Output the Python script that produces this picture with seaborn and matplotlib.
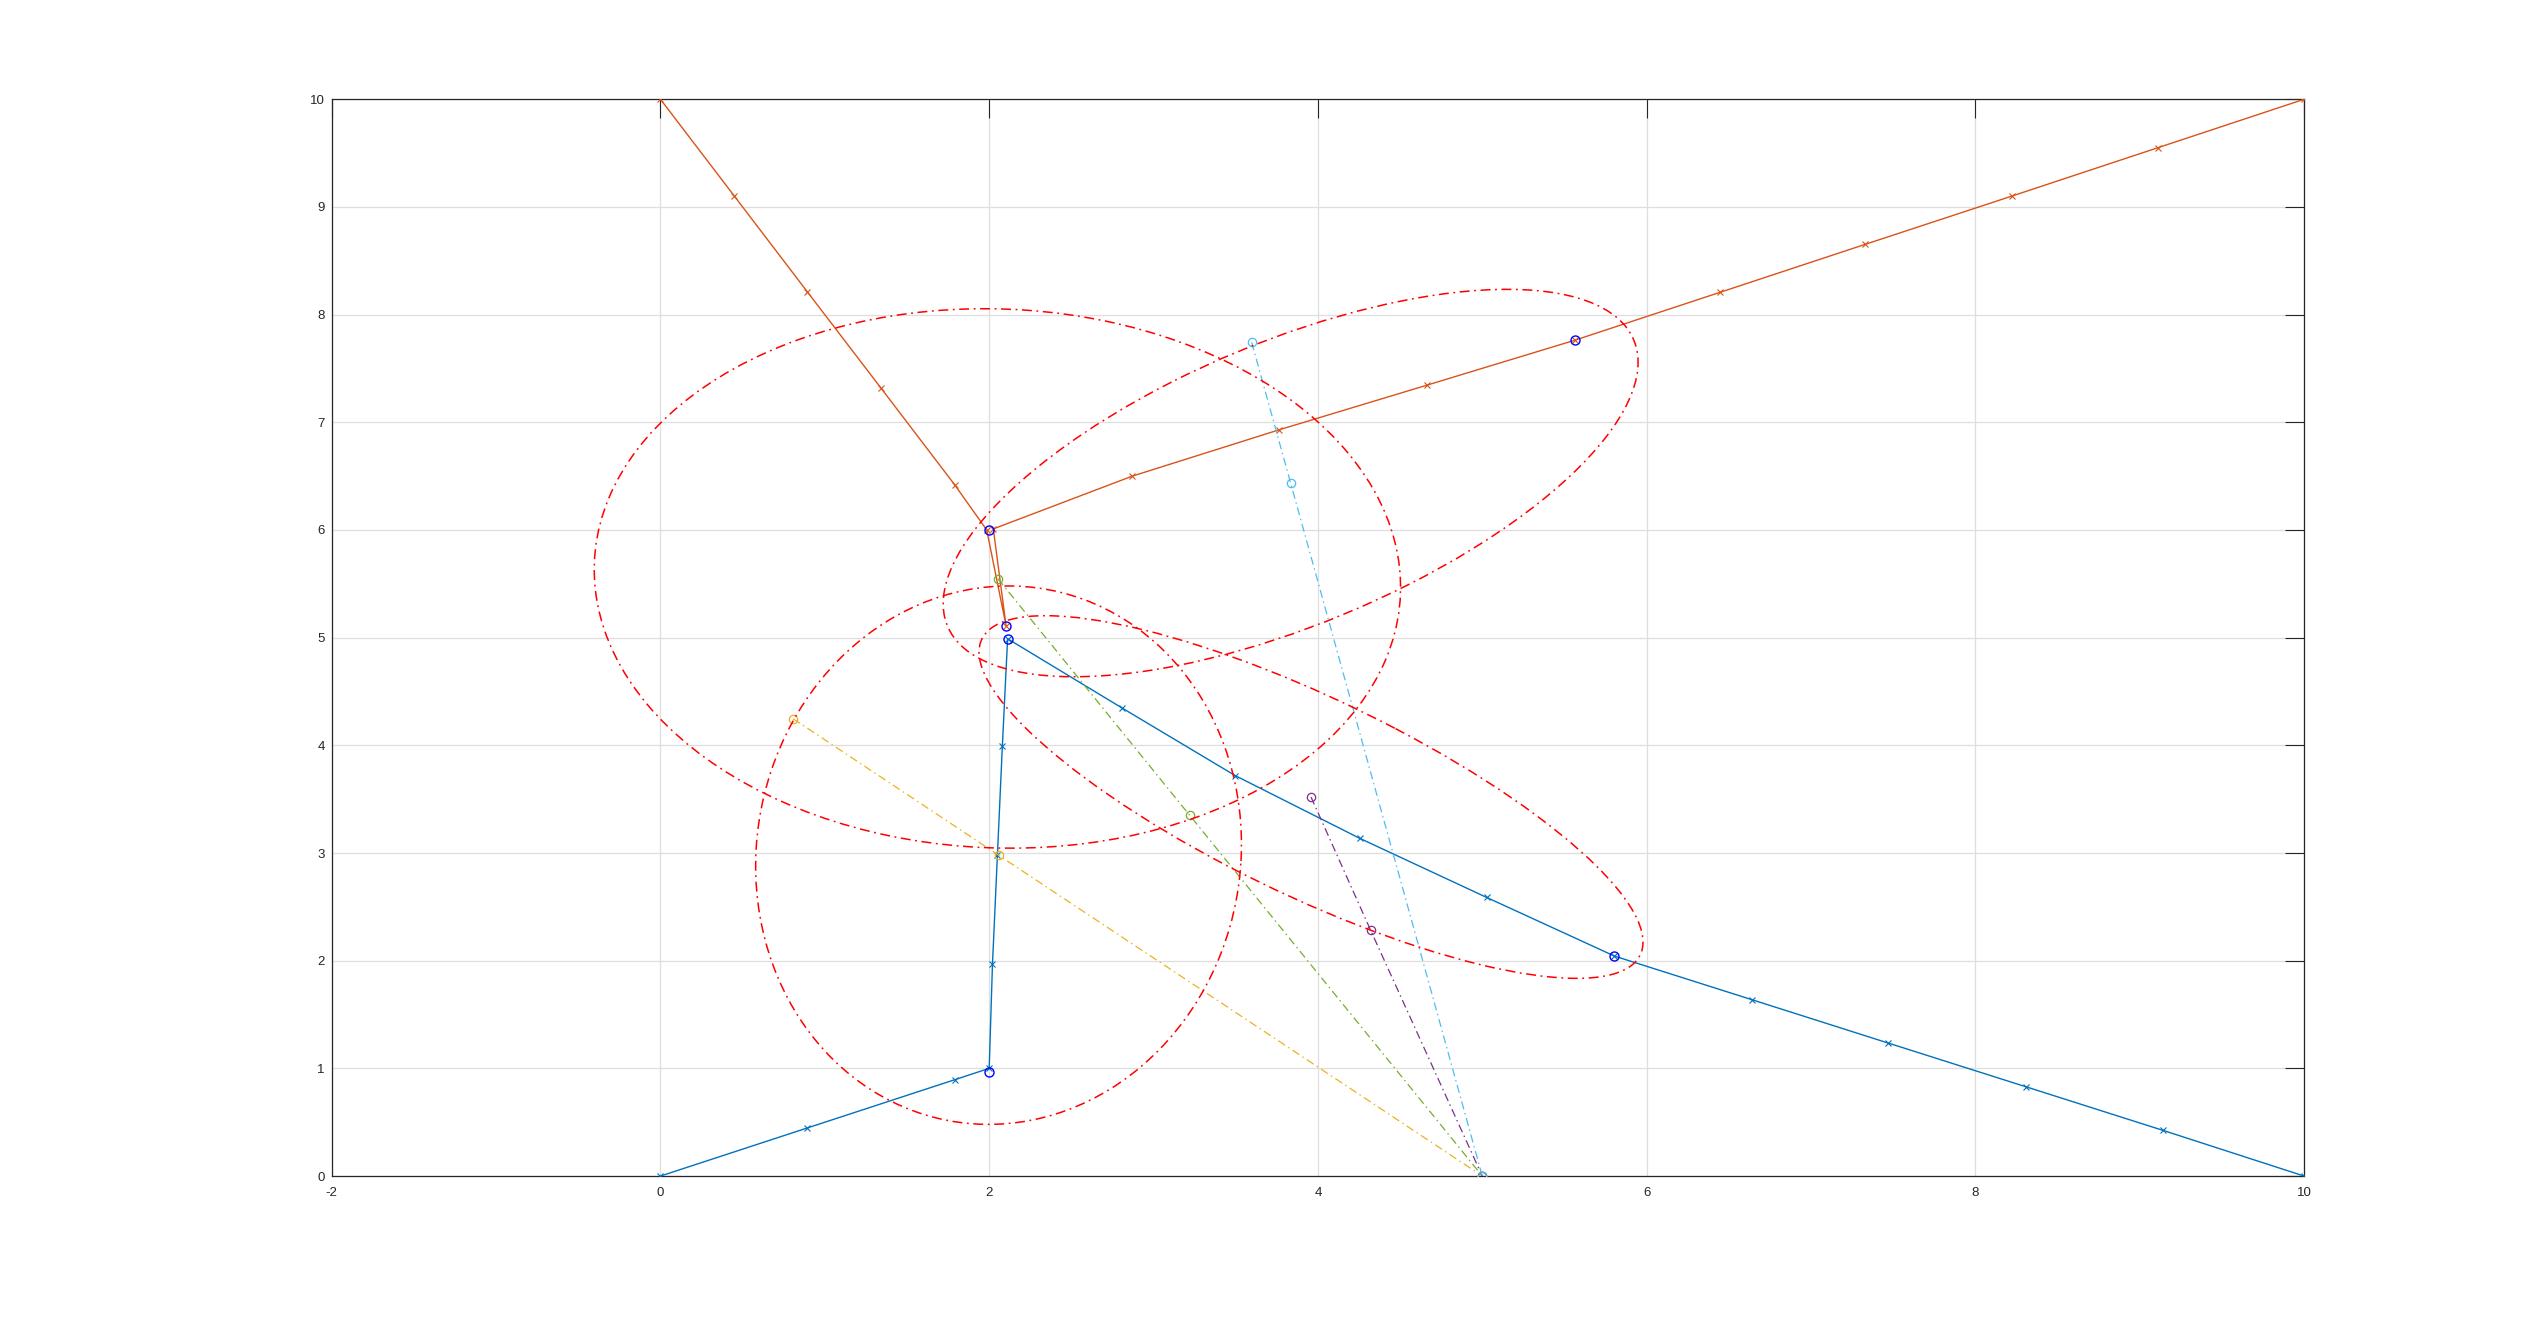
import numpy as np
import pandas as pd
import matplotlib
matplotlib.use("Agg")
import matplotlib.pyplot as plt
from matplotlib.patches import Ellipse
import seaborn as sns

# ---------------- data ----------------
# blue path (x markers on every point)
blue_x = [0.0, 0.894, 1.789, 2.0, 2.02, 2.05, 2.08, 2.112, 2.805, 3.498, 4.255, 5.026, 5.804, 6.64, 7.47, 8.31, 9.14, 10.0]
blue_y = [0.0, 0.447, 0.894, 1.0, 1.97, 2.98, 3.99, 4.99, 4.35, 3.718, 3.136, 2.588, 2.043, 1.638, 1.235, 0.828, 0.425, 0.0]

# orange path
orange_x = [0.0, 0.447, 0.894, 1.342, 1.789, 1.985, 2.103, 2.025, 2.87, 3.763, 4.661, 5.562, 6.446, 7.33, 8.22, 9.11, 10.0]
orange_y = [10.0, 9.106, 8.211, 7.317, 6.422, 6.0, 5.108, 6.01, 6.5, 6.93, 7.344, 7.762, 8.207, 8.653, 9.10, 9.55, 10.0]

# dash-dot rays converging to (5, 0)
yellow_x = [0.807, 2.057, 5.0]
yellow_y = [4.247, 2.98, 0.0]
green_x = [2.053, 3.22, 5.0]
green_y = [5.548, 3.35, 0.0]
purple_x = [3.958, 4.32, 5.0]
purple_y = [3.52, 2.285, 0.0]
cyan_x = [3.597, 3.834, 5.0]
cyan_y = [7.743, 6.436, 0.0]

# highlighted points (blue circles)
hl_x = [2.0, 2.112, 2.103, 2.0, 5.562, 5.804]
hl_y = [0.97, 4.99, 5.108, 6.0, 7.762, 2.043]

# uncertainty ellipses: centre and covariance entries
ell_cx = [2.05, 2.057, 3.834, 3.958]
ell_cy = [5.55, 2.98, 6.436, 3.52]
ell_sxx = [6.017, 2.184, 4.469, 4.08]
ell_syy = [6.275, 6.25, 3.236, 2.836]
ell_sxy = [-0.2, 0.15, 2.37, -2.72]

x_ticks = [-2, 0, 2, 4, 6, 8, 10]
y_ticks = list(range(0, 11))

# ---------------- style ----------------
sns.set_style("white")
plt.rcParams['font.family'] = ['Liberation Sans', 'DejaVu Sans']

C_BLUE = '#0072BD'
C_ORANGE = '#D95319'
C_YELLOW = '#EDB120'
C_PURPLE = '#7E2F8E'
C_GREEN = '#77AC30'
C_CYAN = '#4DBEEE'
AX_COL = '#262626'

fig = plt.figure(figsize=(25.44, 13.22), dpi=100, facecolor='white')
ax = fig.add_axes([0.1304, 0.1104, 0.7753, 0.8145])
ax.set_facecolor('white')

DD = (0, (6.5, 3, 1.2, 3))

def path(xs, ys, color, ls='-', marker='x', ms=5, lw=1.0, mew=0.8, mfc=None):
    df = pd.DataFrame({'x': xs, 'y': ys})
    sns.lineplot(data=df, x='x', y='y', sort=False, estimator=None, ax=ax,
                 color=color, linestyle=ls, linewidth=lw, marker=marker,
                 markersize=ms, markeredgecolor=color, markeredgewidth=mew,
                 markerfacecolor=(mfc if mfc is not None else color),
                 zorder=3)

path(blue_x, blue_y, C_BLUE)
path(orange_x, orange_y, C_ORANGE)
path(yellow_x, yellow_y, C_YELLOW, ls=DD, marker='o', ms=6, lw=0.9, mew=0.9, mfc='none')
path(green_x, green_y, C_GREEN, ls=DD, marker='o', ms=6, lw=0.9, mew=0.9, mfc='none')
path(purple_x, purple_y, C_PURPLE, ls=DD, marker='o', ms=6, lw=0.9, mew=0.9, mfc='none')
path(cyan_x, cyan_y, C_CYAN, ls=DD, marker='o', ms=6, lw=0.9, mew=0.9, mfc='none')

# ellipses
for cx, cy, sxx, syy, sxy in zip(ell_cx, ell_cy, ell_sxx, ell_syy, ell_sxy):
    cov = np.array([[sxx, sxy], [sxy, syy]])
    vals, vecs = np.linalg.eigh(cov)
    order = vals.argsort()[::-1]
    vals, vecs = vals[order], vecs[:, order]
    ang = np.degrees(np.arctan2(vecs[1, 0], vecs[0, 0]))
    e = Ellipse((cx, cy), 2 * np.sqrt(vals[0]), 2 * np.sqrt(vals[1]), angle=ang,
                fill=False, edgecolor='#FF0000', linewidth=1.1, linestyle=DD, zorder=4)
    ax.add_patch(e)

# highlighted points
df_hl = pd.DataFrame({'x': hl_x, 'y': hl_y})
sns.lineplot(data=df_hl, x='x', y='y', sort=False, estimator=None, ax=ax,
             linestyle='', marker='o', markersize=6.5, markerfacecolor='none',
             markeredgecolor='#0000FF', markeredgewidth=1.0, color='#0000FF', zorder=5)

# axes
ax.set_xlim(-2, 10)
ax.set_ylim(0, 10)
ax.set_xticks(x_ticks)
ax.set_yticks(y_ticks)
ax.set_xticklabels([str(t) for t in x_ticks])
ax.set_yticklabels([str(t) for t in y_ticks])
ax.set_xlabel('')
ax.set_ylabel('')
ax.grid(True, color='#dedede', linewidth=0.9, zorder=0)
ax.set_axisbelow(True)
for sp in ax.spines.values():
    sp.set_visible(True)
    sp.set_color(AX_COL)
    sp.set_linewidth(0.9)
ax.tick_params(direction='in', length=13.5, width=0.8, color=AX_COL,
               top=True, right=True, labelcolor=AX_COL, labelsize=9.5)
ax.tick_params(axis='x', pad=8)
ax.tick_params(axis='y', pad=5)

fig.savefig('out.png', dpi=100, facecolor='white')
